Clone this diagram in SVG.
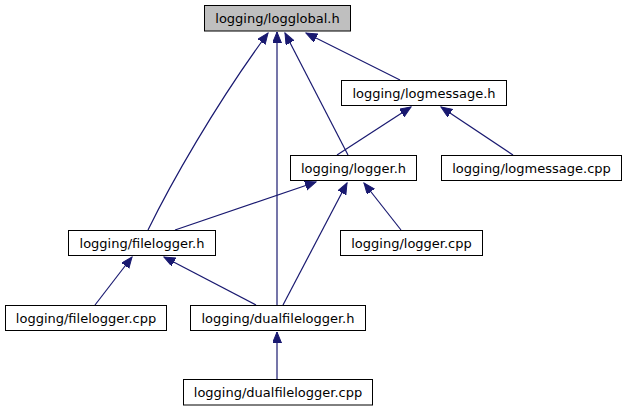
<svg xmlns="http://www.w3.org/2000/svg" width="627" height="411" viewBox="0 0 627 411">
<defs>
<marker id="ah" markerUnits="userSpaceOnUse" markerWidth="13" markerHeight="10" refX="11" refY="4.5" orient="auto">
<path d="M0,0 L11,4.5 L0,9 z" fill="#191970" stroke="#191970" stroke-width="1"/>
</marker>
</defs>
<style>
.n rect{fill:#ffffff;stroke:#000000;stroke-width:1}
.n.root rect{fill:#bfbfbf}
.n text{font-family:"DejaVu Sans",sans-serif;font-size:13px;text-anchor:middle;fill:#000000}
.e path{fill:none;stroke:#191970;stroke-width:1.2;marker-end:url(#ah)}
</style>
<g id="edges" class="e">
<path d="M400,80 L306,33"/>
<path d="M348,155 L285,33"/>
<path d="M277,305 L277,32"/>
<path d="M148,230 C170,185 215,105 268,33"/>
<path d="M337,155 L411,107"/>
<path d="M513,155 L441,107"/>
<path d="M175,230 L316,182"/>
<path d="M401,230 L364,183"/>
<path d="M283,305 L347,183"/>
<path d="M95,305 L132,257"/>
<path d="M256,305 L164,257"/>
<path d="M277,379 L277,332"/>
</g>
<g id="n_logglobal" class="n root"><rect x="204.5" y="5.5" width="146" height="25.5"/><text x="277.5" y="23">logging/logglobal.h</text></g>
<g id="n_logmessage_h" class="n"><rect x="341.5" y="80.5" width="165" height="25"/><text x="424" y="98">logging/logmessage.h</text></g>
<g id="n_logger_h" class="n"><rect x="290.5" y="155.5" width="126" height="25"/><text x="353.5" y="173">logging/logger.h</text></g>
<g id="n_logmessage_cpp" class="n"><rect x="441.5" y="155.5" width="180" height="25"/><text x="531.5" y="173">logging/logmessage.cpp</text></g>
<g id="n_logger_cpp" class="n"><rect x="340.5" y="230.5" width="142" height="25"/><text x="411.5" y="248">logging/logger.cpp</text></g>
<g id="n_filelogger_h" class="n"><rect x="68.5" y="230.5" width="147" height="25"/><text x="142" y="248">logging/filelogger.h</text></g>
<g id="n_filelogger_cpp" class="n"><rect x="5.5" y="305.5" width="161" height="25"/><text x="86" y="323">logging/filelogger.cpp</text></g>
<g id="n_dualfilelogger_h" class="n"><rect x="190.5" y="305.5" width="175" height="25"/><text x="278" y="323">logging/dualfilelogger.h</text></g>
<g id="n_dualfilelogger_cpp" class="n"><rect x="183.5" y="379.5" width="189" height="25.5"/><text x="278" y="397">logging/dualfilelogger.cpp</text></g>
</svg>
